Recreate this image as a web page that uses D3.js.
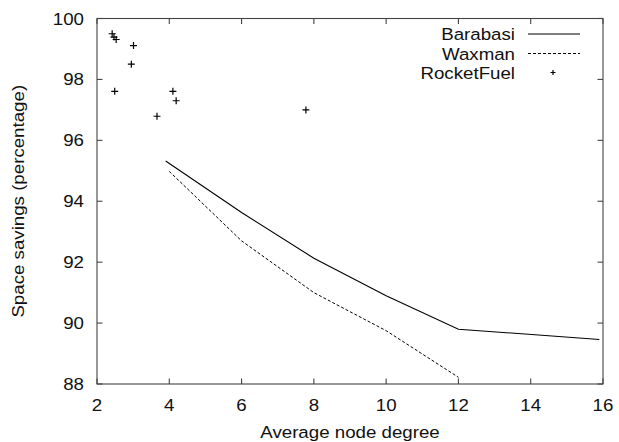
<!DOCTYPE html>
<html>
<head>
<meta charset="utf-8">
<script src="https://d3js.org/d3.v7.min.js"></script>
<style>
    body { margin: 0; background: #fff; }
    text { font-family: "Liberation Sans", Arial, sans-serif; fill: #111; }
</style>
</head>
<body>
<div id="container"></div>
<script>
// values
var xTicks = [2, 4, 6, 8, 10, 12, 14, 16];
var yTicks = [88, 90, 92, 94, 96, 98, 100];

var barabasiDegree = [3.9, 6, 8, 10, 12, 15.9];
var barabasiSavings = [95.32, 93.63, 92.13, 90.9, 89.8, 89.46];

var waxmanDegree = [4, 6, 8, 10, 12];
var waxmanSavings = [94.98, 92.7, 91.0, 89.75, 88.22];

var rocketDegree = [2.42, 2.47, 2.53, 3.01, 2.95, 2.49, 4.1, 4.19, 3.66, 7.78];
var rocketSavings = [99.5, 99.39, 99.31, 99.11, 98.5, 97.61, 97.61, 97.3, 96.79, 97.0];

var legendNames = ["Barabasi", "Waxman", "RocketFuel"];

var Chart = {
    WIDTH: 619,
    HEIGHT: 442,
    LEFT: 97,
    RIGHT: 603,
    TOP: 18.5,
    BOTTOM: 384,
    TICK: 5.5,
    FONT: "17px",
    STRETCH: 1.1   // the original lettering is a bit wider than Arial
};

var svg, x, y;

function zip(xs, ys) {
    var out = [];
    for (var i = 0; i < xs.length; i++) out.push([xs[i], ys[i]]);
    return out;
}

// text placed at (tx,ty), widened along its own direction
function label(g, tx, ty, str, anchor, rot) {
    var t = "translate(" + tx + "," + ty + ")" + (rot ? " rotate(" + rot + ")" : "") +
        " scale(" + Chart.STRETCH + ",1)";
    return g.append("text")
        .attr("transform", t)
        .attr("text-anchor", anchor)
        .style("font-size", Chart.FONT)
        .text(str);
}

function drawFrame() {
    var frame = svg.append("g").attr("stroke", "#444").attr("stroke-width", 1.1).attr("fill", "none");

    // ticks on all four sides, pointing in
    xTicks.forEach(function (t) {
        frame.append("line").attr("x1", x(t)).attr("x2", x(t))
            .attr("y1", Chart.BOTTOM).attr("y2", Chart.BOTTOM - Chart.TICK);
        frame.append("line").attr("x1", x(t)).attr("x2", x(t))
            .attr("y1", Chart.TOP).attr("y2", Chart.TOP + Chart.TICK);
    });
    yTicks.forEach(function (t) {
        frame.append("line").attr("y1", y(t)).attr("y2", y(t))
            .attr("x1", Chart.LEFT).attr("x2", Chart.LEFT + Chart.TICK);
        frame.append("line").attr("y1", y(t)).attr("y2", y(t))
            .attr("x1", Chart.RIGHT).attr("x2", Chart.RIGHT - Chart.TICK);
    });

    frame.append("rect")
        .attr("x", Chart.LEFT).attr("y", Chart.TOP)
        .attr("width", Chart.RIGHT - Chart.LEFT)
        .attr("height", Chart.BOTTOM - Chart.TOP);

    var labels = svg.append("g");
    xTicks.forEach(function (t) {
        label(labels, x(t), Chart.BOTTOM + 26.5, t, "middle");
    });
    yTicks.forEach(function (t) {
        label(labels, Chart.LEFT - 13, y(t) + 6, t, "end");
    });

    label(labels, (Chart.LEFT + Chart.RIGHT) / 2, 437.5, "Average node degree", "middle");
    label(labels, 23.5, (Chart.TOP + Chart.BOTTOM) / 2, "Space savings (percentage)", "middle", -90);
}

function plus(g, cx, cy, r) {
    g.append("path")
        .attr("d", "M" + (cx - r) + "," + cy + "H" + (cx + r) + "M" + cx + "," + (cy - r) + "V" + (cy + r))
        .attr("stroke", "#000")
        .attr("stroke-width", 1.2);
}

function drawSeries() {
    var line = d3.line().x(function (d) { return x(d[0]); }).y(function (d) { return y(d[1]); });

    svg.append("path")
        .attr("d", line(zip(barabasiDegree, barabasiSavings)))
        .attr("fill", "none").attr("stroke", "#000").attr("stroke-width", 1.1);

    svg.append("path")
        .attr("d", line(zip(waxmanDegree, waxmanSavings)))
        .attr("fill", "none").attr("stroke", "#000").attr("stroke-width", 1)
        .attr("stroke-dasharray", "3,2");

    var pts = svg.append("g");
    zip(rocketDegree, rocketSavings).forEach(function (p) {
        plus(pts, x(p[0]), y(p[1]), 3.5);
    });
}

function drawLegend() {
    var rowY = [34, 53.5, 72.5];
    var leg = svg.append("g");
    legendNames.forEach(function (name, i) {
        label(leg, 515, rowY[i] + 6, name, "end");
    });
    leg.append("line").attr("x1", 528).attr("x2", 580).attr("y1", rowY[0]).attr("y2", rowY[0])
        .attr("stroke", "#000").attr("stroke-width", 1.1);
    leg.append("line").attr("x1", 528).attr("x2", 580).attr("y1", rowY[1]).attr("y2", rowY[1])
        .attr("stroke", "#000").attr("stroke-width", 1).attr("stroke-dasharray", "3,2");
    plus(leg, 553, rowY[2], 2.5);
}

svg = d3.select("#container").append("svg")
    .attr("width", Chart.WIDTH)
    .attr("height", Chart.HEIGHT);

x = d3.scaleLinear().domain([2, 16]).range([Chart.LEFT, Chart.RIGHT]);
y = d3.scaleLinear().domain([88, 100]).range([Chart.BOTTOM, Chart.TOP]);

drawFrame();
drawSeries();
drawLegend();
</script>
</body>
</html>
